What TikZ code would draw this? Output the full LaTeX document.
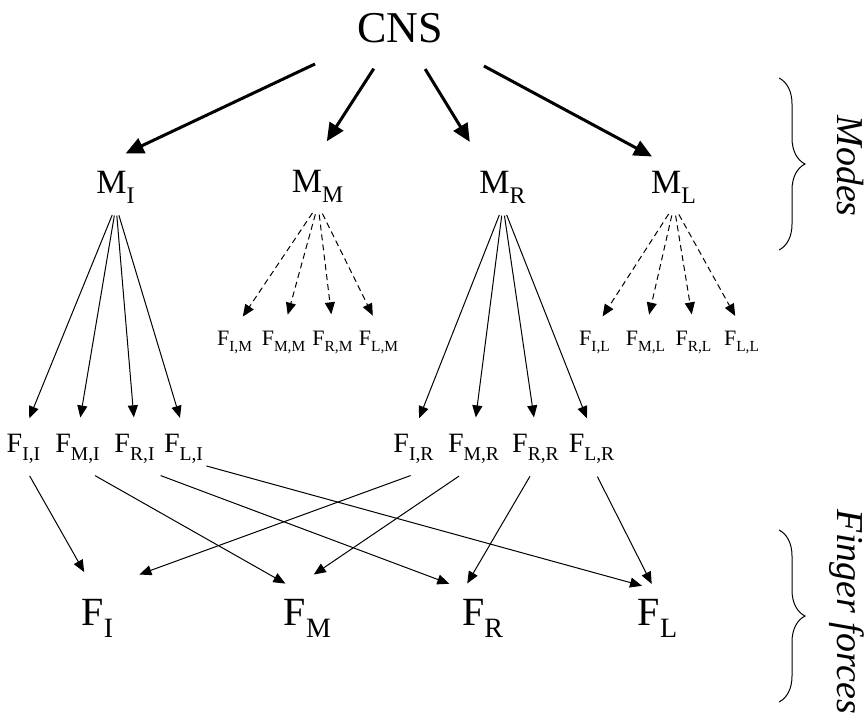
\documentclass[tikz,border=0pt]{standalone}
\usepackage{fontspec}
\setmainfont{Liberation Serif}
\usetikzlibrary{arrows.meta,decorations.pathreplacing}

\newcommand{\sbs}[1]{\raisebox{-0.15em}{\textsubscript{#1}}}

\begin{document}
\begin{tikzpicture}[x=0.5pt,y=-0.5pt,inner sep=1pt,
  top/.style={font=\fontsize{22}{26}\selectfont},
  mode/.style={font=\fontsize{17}{19}\selectfont,anchor=base},
  share/.style={font=\fontsize{14}{16}\selectfont,anchor=base},
  slave/.style={font=\fontsize{11}{13}\selectfont,anchor=base},
  finger/.style={font=\fontsize{20}{24}\selectfont,anchor=base},
  side/.style={font=\fontsize{19}{22}\selectfont\itshape,rotate=-90,anchor=base},
  heavy/.style={-{Triangle[length=9pt,width=8pt]},line width=1.5pt,
    shorten <=14pt,shorten >=15.5pt},
  light/.style={-{Triangle[length=6pt,width=5pt]},line width=0.5pt},
  faint/.style={-{Triangle[length=6pt,width=5pt]},line width=0.5pt,
    dash pattern=on 3pt off 2pt},
  curly/.style={decorate,decoration={brace,amplitude=13pt},line width=0.5pt}]

\useasboundingbox (0,0) rectangle (866,719);

% top
\node[top] (CNS) at (400,28) {CNS};

% modes
\node[mode] (MI) at (116,193) {M\sbs{I}};
\node[mode] (MM) at (318,192) {M\sbs{M}};
\node[mode] (MR) at (503,193) {M\sbs{R}};
\node[mode] (ML) at (674,193) {M\sbs{L}};

% forces of the modes in use
\node[share] (FII) at (24,452)  {F\sbs{I,I}};
\node[share] (FMI) at (78,452)  {F\sbs{M,I}};
\node[share] (FRI) at (135,452) {F\sbs{R,I}};
\node[share] (FLI) at (184,452) {F\sbs{L,I}};
\node[share] (FIR) at (414,452) {F\sbs{I,R}};
\node[share] (FMR) at (474,452) {F\sbs{M,R}};
\node[share] (FRR) at (536,452) {F\sbs{R,R}};
\node[share] (FLR) at (592,452) {F\sbs{L,R}};

% forces of the other modes
\node[slave] (FIM) at (235,345) {F\sbs{I,M}};
\node[slave] (FMM) at (284,345) {F\sbs{M,M}};
\node[slave] (FRM) at (333,345) {F\sbs{R,M}};
\node[slave] (FLM) at (379,345) {F\sbs{L,M}};
\node[slave] (FIL) at (595,345) {F\sbs{I,L}};
\node[slave] (FML) at (646,345) {F\sbs{M,L}};
\node[slave] (FRL) at (694,345) {F\sbs{R,L}};
\node[slave] (FLL) at (742,345) {F\sbs{L,L}};

% finger forces
\node[finger] (FI) at (98,625)  {F\sbs{I}};
\node[finger] (FM) at (308,625) {F\sbs{M}};
\node[finger] (FR) at (483,625) {F\sbs{R}};
\node[finger] (FL) at (658,625) {F\sbs{L}};

% side labels
\node[side] (modes) at (837,166) {Modes};
\node[side] (forces) at (837,612) {Finger forces};
\draw[curly] (779,78) -- (779,250);
\draw[curly] (779,530) -- (779,702);

\path[heavy]
  (CNS.south west) edge[shorten <=22pt,shorten >=17.5pt] (MI.north west)
  (CNS) edge ([xshift=-4pt]MM.north)
  (CNS) edge ([xshift=-8.5pt]MR.north)
  (CNS.south east) edge[shorten <=22pt,shorten >=12.5pt] (ML.north);

\path[light,shorten <=5pt,shorten >=7pt]
  (MI.south) edge (FII.north)
  (MI.south) edge (FMI.north)
  (MI.south) edge (FRI.north)
  (MI.south) edge (FLI.north)
  (MR.south) edge (FIR.north)
  (MR.south) edge (FMR.north)
  (MR.south) edge (FRR.north)
  (MR.south) edge (FLR.north);

\path[faint,shorten <=5pt,shorten >=7pt]
  (MM.south) edge (FIM.north)
  (MM.south) edge (FMM.north)
  (MM.south) edge (FRM.north)
  (MM.south) edge (FLM.north)
  (ML.south) edge (FIL.north)
  (ML.south) edge (FML.north)
  (ML.south) edge (FRL.north)
  (ML.south) edge (FLL.north);

\path[light]
  (FII.south) edge[shorten <=5.7pt,shorten >=14pt] (FI.north)
  (FMI.south) edge[shorten <=9.8pt,shorten >=13pt] (FM.north)
  (FRI.south) edge[shorten <=13.7pt,shorten >=18pt] (FR.north)
  (FLI.south east) edge[shorten >=20pt] (FL.north east)
  (FIR.south east) edge[shorten <=14pt,shorten >=32pt] (FI.north west)
  (FMR.south) edge[shorten <=9pt,shorten >=19.5pt] (FM.north west)
  (FRR.south) edge[shorten <=6pt,shorten >=7.5pt] (FR.north west)
  (FLR.south) edge[shorten <=6pt,shorten >=7pt] (FL.north);

\end{tikzpicture}
\end{document}
